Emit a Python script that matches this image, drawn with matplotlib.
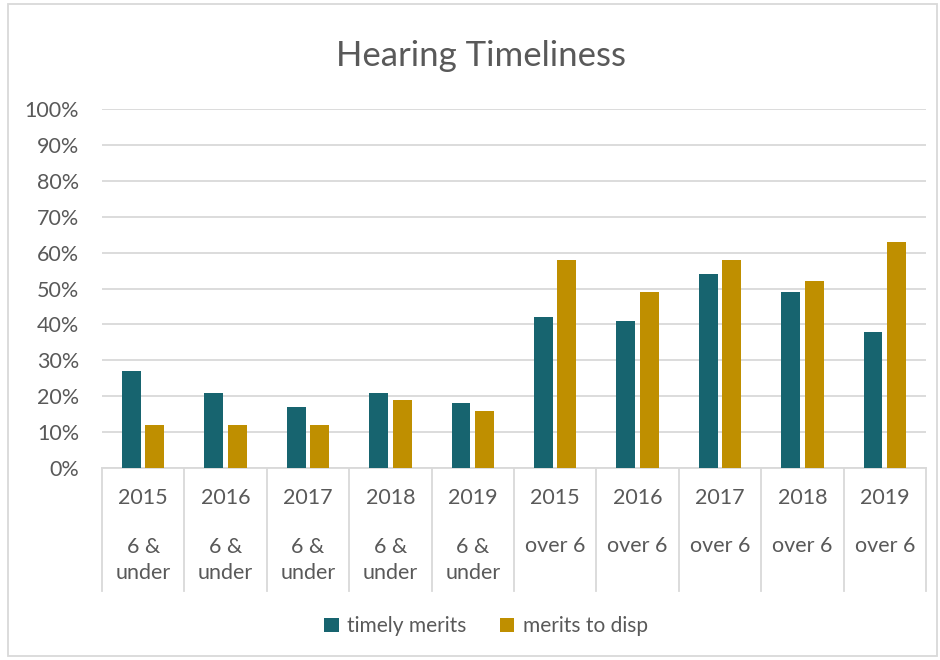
import matplotlib.pyplot as plt
from matplotlib.patches import Rectangle
import numpy as np

plt.rcParams['font.family'] = ['Lato', 'DejaVu Sans']

years = ['2015', '2016', '2017', '2018', '2019', '2015', '2016', '2017', '2018', '2019']
groups = ['6 &\nunder'] * 5 + ['over 6'] * 5
timely_merits = [27, 21, 17, 21, 18, 42, 41, 54, 49, 38]
merits_to_disp = [12, 12, 12, 19, 16, 58, 49, 58, 52, 63]

teal = '#17646F'
gold = '#BF8F00'
text_col = '#595959'
grid_col = '#D9D9D9'

fig = plt.figure(figsize=(9.4, 6.6), dpi=100)
ax = fig.add_axes([0.1085, 0.2909, 0.8766, 0.5439])

x = np.arange(len(years))
w = 0.23
ax.bar(x - 0.143, np.array(timely_merits) / 100, w, color=teal, label='timely merits', zorder=3)
ax.bar(x + 0.143, np.array(merits_to_disp) / 100, w, color=gold, label='merits to disp', zorder=3)

ax.set_xlim(-0.5, len(years) - 0.5)
ax.set_ylim(0, 1)
ax.set_yticks(np.arange(0, 1.01, 0.1))
ax.set_yticklabels([f'{int(round(v * 100))}%' for v in np.arange(0, 1.01, 0.1)])
ax.yaxis.grid(True, color=grid_col, linewidth=1.3, zorder=0)
ax.tick_params(axis='y', length=0, labelsize=15.5, labelcolor=text_col, pad=16.5)
ax.set_xticks([])
for s in ['top', 'right', 'left']:
    ax.spines[s].set_visible(False)
ax.spines['bottom'].set_color(grid_col)
ax.spines['bottom'].set_linewidth(1.3)

# подписи категорий в два уровня и разделители
trans = ax.get_xaxis_transform()
for i in range(len(years)):
    ax.text(x[i], -0.084, years[i], transform=trans, ha='center', va='center',
            fontsize=15.5, color=text_col)
    if '\n' in groups[i]:
        ax.text(x[i], -0.256, groups[i], transform=trans, ha='center', va='center',
                fontsize=15.5, color=text_col, linespacing=1.4)
    else:
        ax.text(x[i], -0.217, groups[i], transform=trans, ha='center', va='center',
                fontsize=15.5, color=text_col)
for b in np.arange(-0.5, len(years), 1.0):
    ax.plot([b, b], [0, -0.342], transform=trans, color=grid_col, lw=1.3,
            clip_on=False)

fig.text(0.512, 0.915, 'Hearing Timeliness', ha='center', va='center',
         fontsize=25, color=text_col)

fig.legend(loc='center', bbox_to_anchor=(0.517, 0.051), ncol=2, frameon=False,
           fontsize=15, labelcolor=text_col, handlelength=0.7, handleheight=0.7,
           handletextpad=0.4, columnspacing=1.6)

fig.patches.append(Rectangle((0.009, 0.006), 0.988, 0.988, transform=fig.transFigure,
                             fill=False, edgecolor=grid_col, linewidth=1.3))

plt.savefig('out.png', dpi=100)
